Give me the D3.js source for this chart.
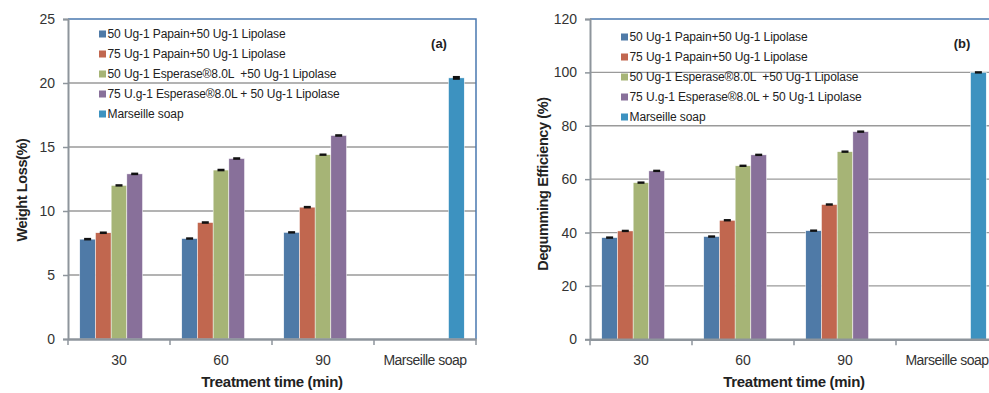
<!DOCTYPE html>
<html>
<head>
<meta charset="utf-8">
<script src="https://cdn.jsdelivr.net/npm/d3@7"></script>
<style>
html,body{margin:0;padding:0;background:#fff;overflow:hidden;}
svg{display:block;font-family:"Liberation Sans",Arial,sans-serif;}
</style>
</head>
<body>
<svg id="c" width="989" height="393"></svg>
<script>
// ---------- data ----------
const categories = ["30", "60", "90", "Marseille soap"];
const seriesNames = [
  "50 Ug-1 Papain+50 Ug-1 Lipolase",
  "75 Ug-1 Papain+50 Ug-1 Lipolase",
  "50 Ug-1 Esperase®8.0L  +50 Ug-1 Lipolase",
  "75 U.g-1 Esperase®8.0L + 50 Ug-1 Lipolase",
  "Marseille soap"
];
const seriesColors = ["#4f7aa7", "#c1674f", "#a6b476", "#88709a", "#3d92c0"];

// Weight loss (%) per series, by category
const weightLoss = [
  [7.8, 7.85, 8.33, null],
  [8.3, 9.1, 10.3, null],
  [12.0, 13.2, 14.4, null],
  [12.9, 14.1, 15.9, null],
  [null, null, null, 20.4]
];
const weightLossErr = [
  [0.1, 0.08, 0.08, null],
  [0.1, 0.1, 0.1, null],
  [0.08, 0.1, 0.08, null],
  [0.1, 0.1, 0.1, null],
  [null, null, null, 0.15]
];
// Degumming efficiency (%) per series, by category
const degumming = [
  [38.1, 38.5, 40.7, null],
  [40.6, 44.6, 50.5, null],
  [58.7, 65.0, 70.3, null],
  [63.1, 69.1, 77.8, null],
  [null, null, null, 100]
];
const degummingErr = [
  [0.4, 0.4, 0.3, null],
  [0.4, 0.4, 0.3, null],
  [0.4, 0.3, 0.3, null],
  [0.3, 0.3, 0.4, null],
  [null, null, null, 0.3]
];
const weightTicks = [0, 5, 10, 15, 20, 25];
const degumTicks = [0, 20, 40, 60, 80, 100, 120];

// ---------- drawing ----------
const svg = d3.select("#c");

function panel(opts) {
  const {left, width, top, bottom, yMax, ticks, values, errs, yTitle, yTitleX, yTitleY, tag, tagX, legendX, legendY} = opts;
  const g = svg.append("g");
  const x0 = d3.scaleBand().domain(categories).range([left, left + width]).paddingInner(0).paddingOuter(0);
  const x1 = d3.scaleBand().domain(d3.range(seriesNames.length)).range([0, x0.bandwidth()]).paddingInner(0).paddingOuter(0.75);
  const y = d3.scaleLinear().domain([0, yMax]).range([bottom, top]);

  // grid lines
  g.selectAll("line.grid").data(ticks.filter(t => t > 0 && t < yMax)).join("line")
    .attr("x1", left).attr("x2", left + width)
    .attr("y1", d => y(d)).attr("y2", d => y(d))
    .attr("stroke", "#9a9a9a").attr("stroke-width", 1.3);

  // plot border (top/right)
  g.append("path")
    .attr("d", `M${left},${y(yMax)}H${left + width}V${bottom}`)
    .attr("fill", "none").attr("stroke", "#4a78b0").attr("stroke-width", 1.5);

  // bars
  const data = [];
  values.forEach((arr, s) => arr.forEach((v, c) => {
    if (v != null) data.push({s, c, v, e: errs[s][c]});
  }));
  g.selectAll("rect.bar").data(data).join("rect")
    .attr("x", d => x0(categories[d.c]) + x1(d.s))
    .attr("width", x1.bandwidth())
    .attr("y", d => y(d.v))
    .attr("height", d => y(0) - y(d.v))
    .attr("fill", d => seriesColors[d.s])
    .attr("stroke", "#ffffff").attr("stroke-width", 0.5);

  // error bars
  const eg = g.selectAll("g.err").data(data).join("g")
    .attr("transform", d => `translate(${x0(categories[d.c]) + x1(d.s) + x1.bandwidth() / 2},0)`);
  eg.append("rect")
    .attr("x", -3.5).attr("width", 7)
    .attr("y", d => Math.min(y(d.v + d.e), y(d.v) - 1.2))
    .attr("height", d => Math.max(y(d.v - d.e) - y(d.v + d.e), 2.4))
    .attr("fill", "#111");

  // y axis
  const ya = g.append("g").attr("transform", `translate(${left},0)`)
    .call(d3.axisLeft(y).tickValues(ticks).tickSize(5).tickPadding(8).tickFormat(d3.format("d")));
  ya.select(".domain").attr("stroke", "#8e959c").attr("stroke-width", 2);
  ya.selectAll(".tick line").attr("stroke", "#8e959c").attr("stroke-width", 1.5);
  ya.selectAll(".tick text").attr("font-size", 14).attr("fill", "#333")
    .attr("font-family", "Liberation Sans, Arial, sans-serif");

  // x axis
  const xa = g.append("g").attr("transform", `translate(0,${bottom})`)
    .call(d3.axisBottom(x0).tickSize(0).tickPadding(16));
  xa.select(".domain").attr("stroke", "#8e959c").attr("stroke-width", 2.5);
  xa.selectAll(".tick text").attr("font-size", 14).attr("fill", "#333")
    .attr("letter-spacing", d => d.length > 3 ? "-0.5px" : "0")
    .attr("font-family", "Liberation Sans, Arial, sans-serif");
  // band boundary ticks
  const bounds = categories.map(c => x0(c)).concat([left + width]);
  g.selectAll("line.btick").data(bounds).join("line")
    .attr("x1", d => d).attr("x2", d => d)
    .attr("y1", bottom).attr("y2", bottom + 6)
    .attr("stroke", "#8e959c").attr("stroke-width", 1.5);

  // titles
  g.append("text").attr("x", left + width / 2).attr("y", 387)
    .attr("text-anchor", "middle").attr("font-weight", "bold").attr("font-size", 15)
    .attr("letter-spacing", "-0.3px").attr("fill", "#222")
    .text("Treatment time (min)");
  g.append("text").attr("transform", `translate(${yTitleX},${yTitleY}) rotate(-90)`)
    .attr("text-anchor", "middle").attr("font-weight", "bold").attr("font-size", 14.5)
    .attr("letter-spacing", "-0.4px").attr("fill", "#222")
    .text(yTitle);
  g.append("text").attr("x", tagX).attr("y", 48)
    .attr("text-anchor", "middle").attr("font-weight", "bold").attr("font-size", 13)
    .attr("fill", "#222").text(tag);

  // legend
  const lg = g.append("g").attr("transform", `translate(${legendX},${legendY})`);
  const items = lg.selectAll("g").data(seriesNames).join("g")
    .attr("transform", (d, i) => `translate(0,${i * 20})`);
  items.append("rect").attr("x", 0).attr("y", -3.5).attr("width", 7).attr("height", 7)
    .attr("fill", (d, i) => seriesColors[i]);
  items.append("text").attr("x", 8.5).attr("y", 4.2)
    .attr("font-size", 12).attr("fill", "#222").attr("letter-spacing", "-0.1px")
    .style("white-space", "pre")
    .text(d => d);
}

panel({left: 68, width: 408, top: 19, bottom: 339, yMax: 25, ticks: weightTicks,
  values: weightLoss, errs: weightLossErr, yTitle: "Weight Loss(%)", yTitleX: 27, yTitleY: 190,
  tag: "(a)", tagX: 439, legendX: 99, legendY: 34});
panel({left: 590, width: 408, top: 19, bottom: 339.3, yMax: 120, ticks: degumTicks,
  values: degumming, errs: degummingErr, yTitle: "Degumming Efficiency (%)", yTitleX: 548, yTitleY: 184,
  tag: "(b)", tagX: 962, legendX: 621, legendY: 37});
</script>
</body>
</html>
